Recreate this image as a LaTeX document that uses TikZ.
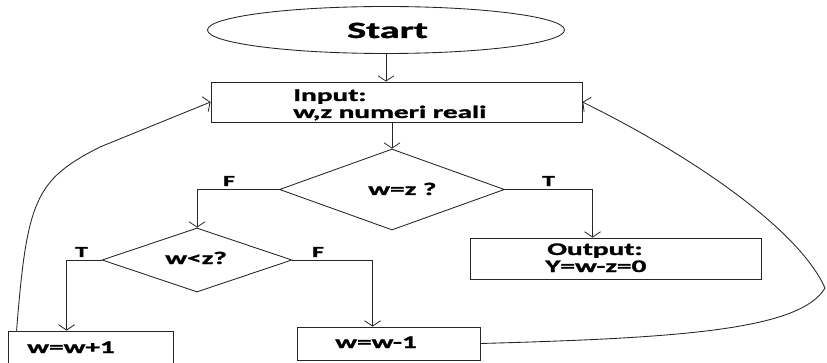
\documentclass[tikz,border=0pt]{standalone}
\usepackage{fontspec}
\setmainfont{Carlito}[BoldFeatures={FakeBold=1.2}]
\usetikzlibrary{shapes.geometric,arrows.meta,calc}
% wide bold lettering used throughout the chart
\newcommand\widetxt[1]{\scalebox{1.65}[1]{\bfseries #1}}
\tikzset{
  line/.style={line width=0.65pt, draw=black!85},
  arr/.style={line, -{Straight Barb[length=4pt,width=12pt,line width=0.6pt]}},
  box/.style={line, rectangle, inner sep=0pt},
  decision/.style={line, diamond, inner sep=0pt},
  txt/.style={anchor=base west, inner sep=0pt, font=\fontsize{13.3}{13.3}\selectfont},
  lbl/.style={anchor=base west, inner sep=0pt, font=\fontsize{11.5}{11.5}\selectfont},
}
\begin{document}
\begin{tikzpicture}[x=0.75pt, y=-0.75pt]
\useasboundingbox (0,0) rectangle (827,363);

% shapes
\node[line, ellipse, minimum width=357*0.75pt, minimum height=47*0.75pt, inner sep=0pt] (start) at (386,30) {};
\node[box, minimum width=371*0.75pt, minimum height=40*0.75pt] (input) at (396.5,102) {};
\node[decision, minimum width=225*0.75pt, minimum height=81*0.75pt] (d1) at (392,189.5) {};
\node[decision, minimum width=190*0.75pt, minimum height=64*0.75pt] (d2) at (197,260) {};
\node[box, minimum width=291*0.75pt, minimum height=41*0.75pt] (output) at (615.5,258.5) {};
\node[box, minimum width=165*0.75pt, minimum height=47*0.75pt] (w1) at (90.5,354.5) {};
\node[box, minimum width=183*0.75pt, minimum height=33*0.75pt] (w2) at (388.5,343.5) {};

% texts
\node[txt, font=\fontsize{17.5}{17.5}\selectfont] (tstart) at (347,38) {\scalebox{1.72}[1]{\bfseries Start}};
\node[txt] (tin1) at (293,101) {\widetxt{Input:}};
\node[txt] (tin2) at (293,118) {\widetxt{w,z numeri reali}};
\node[txt] (tq1) at (368,195) {\widetxt{w=z ?}};
\node[txt] (tq2) at (165,264) {\widetxt{w<z?}};
\node[txt] (tout1) at (547,255) {\widetxt{Output:}};
\node[txt] (tout2) at (545,272) {\widetxt{Y=w-z=0}};
\node[txt] (tw1) at (27,353) {\widetxt{w=w+1}};
\node[txt] (tw2) at (335,348) {\widetxt{w=w-1}};

% branch labels
\node[lbl] (f1) at (223,186) {\widetxt{F}};
\node[lbl] (t1) at (542,186) {\widetxt{T}};
\node[lbl] (t2) at (75,257) {\widetxt{T}};
\node[lbl] (f2) at (312,257) {\widetxt{F}};

% connectors
\draw[arr] (start.south) -- (start.south |- input.north);
\draw[arr] (d1.north |- input.south) -- (d1.north);
\draw[arr] (d1.west) -| (d2.north);
\draw[arr] (d1.east) -| ($(output.north west)+(123,0)$);
\draw[arr] (d2.west) -| ($(w1.north west)+(59,0)$);
\draw[arr] (d2.east) -| ($(w2.north west)+(76,0)$);

% loop-back lines
\coordinate (lfoot) at ($(w1.north west)+(9,0)$);
\coordinate (lbend) at (100,147);
\draw[arr] (lfoot) .. controls (27,200) and (35,180) .. (lbend) -- (input.west);
\coordinate (rturn) at (825,288);
\draw[arr] (w2.east) .. controls (680,338) and (800,330) .. (rturn)
  .. controls (800,232) and (700,160) .. (input.east);
\end{tikzpicture}
\end{document}
